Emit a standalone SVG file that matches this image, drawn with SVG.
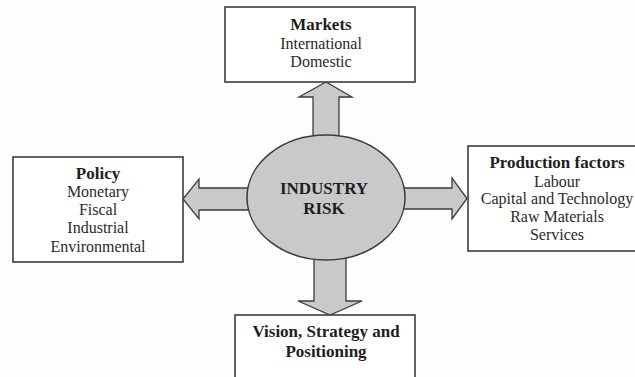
<svg xmlns="http://www.w3.org/2000/svg" width="635" height="377" viewBox="0 0 635 377">
<style>
.box{fill:#fff;stroke:#3c3c3c;stroke-width:1.6}
.arr{fill:#c9c9c9;stroke:#3c3c3c;stroke-width:1.3;stroke-linejoin:miter}
.t{font-family:"Liberation Serif","Times New Roman",serif;font-size:16px;fill:#2a2a2a;text-anchor:middle}
.b{font-weight:bold;fill:#1e1e1e}
</style>
<rect width="635" height="377" fill="#fdfdfd"/>
<g id="connectors">
<polygon class="arr" points="313,140 313,97 299,97 326,82 352,97 339,97 339,140"/>
<polygon class="arr" points="252,188 199,188 199,179 183,199 199,219 199,210 252,210"/>
<polygon class="arr" points="400,188 452,188 452,178 467,198.5 452,219 452,209 400,209"/>
<polygon class="arr" points="314,255 314,301 298,301 330,315 362,301 346,301 346,255"/>
</g>
<g id="industry-risk">
<ellipse cx="326" cy="197.5" rx="79" ry="62.5" fill="#c9c9c9" stroke="#3c3c3c" stroke-width="1.5"/>
<text class="t b" x="324" y="194" style="font-size:17px">INDUSTRY</text>
<text class="t b" x="324" y="214" style="font-size:17px">RISK</text>
</g>
<g id="markets">
<rect class="box" x="225" y="7" width="190" height="75"/>
<text class="t b" x="321" y="30" style="font-size:17px">Markets</text>
<text class="t" x="321" y="49">International</text>
<text class="t" x="321" y="67">Domestic</text>
</g>
<g id="policy">
<rect class="box" x="13" y="157" width="170" height="105"/>
<text class="t b" x="98" y="179" style="font-size:17px">Policy</text>
<text class="t" x="98" y="197">Monetary</text>
<text class="t" x="98" y="215">Fiscal</text>
<text class="t" x="98" y="233">Industrial</text>
<text class="t" x="98" y="252">Environmental</text>
</g>
<g id="production-factors">
<rect class="box" x="468" y="146" width="180" height="105"/>
<text class="t b" x="557" y="168" style="font-size:17px">Production factors</text>
<text class="t" x="557" y="187">Labour</text>
<text class="t" x="557" y="204">Capital and Technology</text>
<text class="t" x="557" y="222">Raw Materials</text>
<text class="t" x="557" y="240">Services</text>
</g>
<g id="vision">
<rect class="box" x="235" y="315" width="180" height="70"/>
<text class="t b" x="326" y="337" style="font-size:17px">Vision, Strategy and</text>
<text class="t b" x="326" y="357" style="font-size:17px">Positioning</text>
</g>
</svg>
